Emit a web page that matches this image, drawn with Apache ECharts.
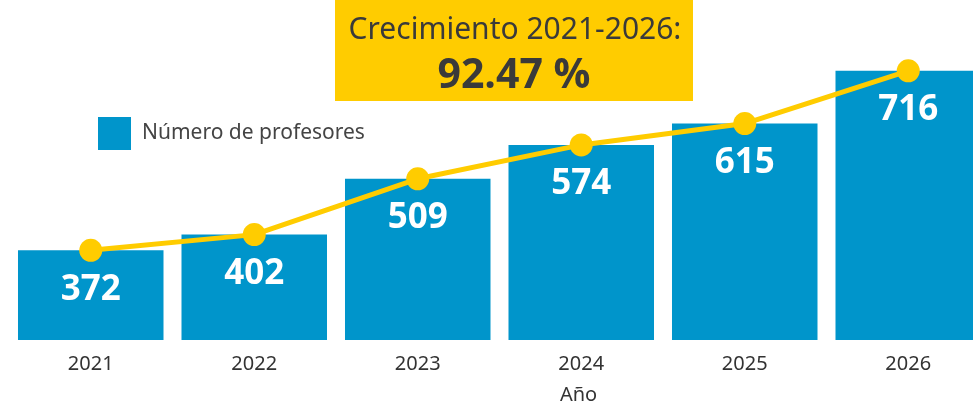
<!DOCTYPE html>
<html><head><meta charset="utf-8">
<script src="https://cdn.jsdelivr.net/npm/echarts@6/dist/echarts.min.js"></script>
<style>html,body{margin:0;padding:0;background:#fff}#c{width:973px;height:407px}</style>
</head><body><div id="c"></div>
<script>
const years = ['2021','2022','2023','2024','2025','2026'];
const profesores = [372, 402, 509, 574, 615, 716];
const growthTitle = 'Crecimiento 2021-2026:';
const growthValue = '92.47 %';
const seriesName = 'Número de profesores';
const axisName = 'Año';

const chart = echarts.init(document.getElementById('c'));
chart.setOption({
  animation: false,
  grid: {left: 9, width: 981, top: 27, bottom: 67, containLabel: false, outerBoundsMode: 'none'},
  legend: {
    data: [seriesName], left: 93, top: 112, icon: 'rect', itemWidth: 33, itemHeight: 33, itemGap: 12,
    textStyle: {fontFamily: 'Noto Sans', fontSize: 21, color: '#444', padding: [0, 0, 0, 6]}
  },
  xAxis: {
    type: 'category', data: years,
    axisLine: {show: false}, axisTick: {show: false},
    axisLabel: {fontFamily: 'Noto Sans', fontSize: 20, color: '#333', margin: 14},
    name: axisName, nameLocation: 'middle', nameGap: 45,
    nameTextStyle: {fontFamily: 'Noto Sans', fontSize: 20, color: '#333', padding: [0, 0, 0, 158]}
  },
  yAxis: {type: 'value', min: 200, max: 800, show: false, splitLine: {show: false}},
  graphic: [
    {type: 'rect', shape: {x: 335, y: 0, width: 358, height: 101}, style: {fill: '#FFCC00'}, z: 10},
    {type: 'text', x: 515, y: 30, z: 11, style: {text: growthTitle, textAlign: 'center', textVerticalAlign: 'middle', fontFamily: 'Noto Sans', fontSize: 30, fill: '#3a3a3a'}},
    {type: 'text', x: 514, y: 76, z: 11, style: {text: growthValue, textAlign: 'center', textVerticalAlign: 'middle', fontFamily: 'Open Sans', fontWeight: 'bold', fontSize: 41, fill: '#3a3a3a'}}
  ],
  series: [
    {
      name: seriesName, type: 'bar', data: profesores, barWidth: '89%',
      itemStyle: {color: '#0095CB'},
      label: {show: true, position: 'insideTop', distance: 22, fontFamily: 'Open Sans', fontWeight: 'bold', fontSize: 35, color: '#fff'}
    },
    {
      name: 'linea', type: 'line', data: profesores, z: 5,
      lineStyle: {color: '#FFCC00', width: 5},
      itemStyle: {color: '#FFCC00'},
      symbol: 'circle', symbolSize: 23, showSymbol: true
    }
  ]
});
</script></body></html>
